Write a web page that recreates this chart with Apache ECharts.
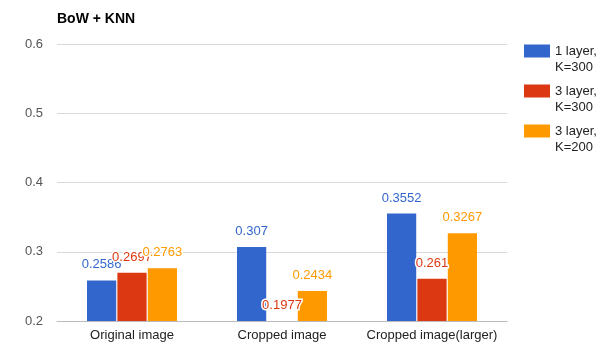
<!DOCTYPE html>
<html>
<head>
<meta charset="utf-8">
<script src="https://cdn.jsdelivr.net/npm/echarts@6/dist/echarts.min.js"></script>
<style>
  html, body { margin: 0; padding: 0; background: #fff; }
</style>
</head>
<body>
<div id="main" style="width: 614px; height: 347px"></div>
<script>
// chart data
const categories = ['Original image', 'Cropped image', 'Cropped image(larger)']
const seriesNames = ['1 layer,\nK=300', '3 layer,\nK=300', '3 layer,\nK=200']
const oneLayerK300 = [0.2586, 0.307, 0.3552]
const threeLayerK300 = [0.2697, 0.1977, 0.261]
const threeLayerK200 = [0.2763, 0.2434, 0.3267]
const yTicks = [0.2, 0.3, 0.4, 0.5, 0.6]

const colors = ['#3366cc', '#dc3912', '#ff9900']
const fontFamily = 'Liberation Sans, Arial, sans-serif'

function makeSeries(name, data, color) {
  return {
    name: name,
    type: 'bar',
    data: data,
    barCategoryGap: '40%',
    barGap: '4%',
    itemStyle: { color: color },
    label: {
      show: true,
      position: 'top',
      distance: 9,
      color: color,
      fontSize: 13,
      fontFamily: fontFamily,
      textBorderColor: '#fff',
      textBorderWidth: 3
    }
  }
}

var myChart = echarts.init(document.getElementById('main'))
var option = {
  color: colors,
  animation: false,
  title: {
    text: 'BoW + KNN',
    left: 52,
    top: 7,
    textStyle: { fontSize: 14, fontWeight: 'bold', color: '#000', fontFamily: fontFamily }
  },
  legend: {
    orient: 'vertical',
    left: 519,
    top: 22,
    itemWidth: 26,
    itemHeight: 13,
    itemGap: -8,
    icon: 'rect',
    data: seriesNames,
    // leading empty line puts the first text line level with the icon
    formatter: function(name) { return '\n' + name },
    textStyle: {
      fontSize: 13,
      color: '#222',
      fontFamily: fontFamily,
      lineHeight: 16
    }
  },
  grid: {
    left: 57,
    right: 107,
    top: 44,
    bottom: 26,
    containLabel: false
  },
  xAxis: {
    type: 'category',
    data: categories,
    axisTick: { show: false },
    axisLine: { lineStyle: { color: '#bbb' } },
    axisLabel: { interval: 0, color: '#222', fontSize: 13, margin: 8, fontFamily: fontFamily }
  },
  yAxis: {
    type: 'value',
    min: yTicks[0],
    max: yTicks[yTicks.length - 1],
    startValue: yTicks[0], // bars grow from the axis bottom, not from 0
    interval: 0.1,
    axisLine: { show: false },
    axisTick: { show: false },
    splitLine: { lineStyle: { color: '#d9d9d9' } },
    axisLabel: {
      color: '#555',
      fontSize: 13,
      margin: 14,
      fontFamily: fontFamily,
      formatter: function(v) { return v.toFixed(1) }
    }
  },
  series: [
    makeSeries(seriesNames[0], oneLayerK300, colors[0]),
    makeSeries(seriesNames[1], threeLayerK300, colors[1]),
    makeSeries(seriesNames[2], threeLayerK200, colors[2])
  ]
}
myChart.setOption(option)
</script>
</body>
</html>
